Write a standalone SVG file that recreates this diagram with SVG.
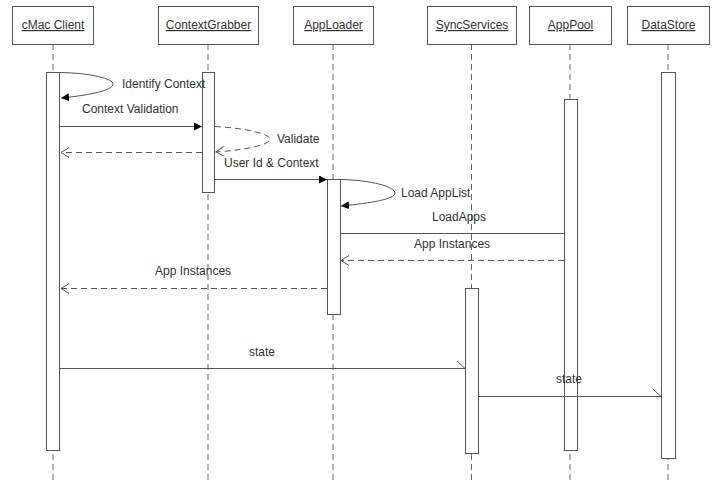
<svg xmlns="http://www.w3.org/2000/svg" width="716" height="482" viewBox="0 0 716 482">
<defs>
<style>
text{font-family:"Liberation Sans",Arial,sans-serif;font-size:12px;fill:#333}
.hd{text-anchor:middle;text-decoration:underline}
.box{fill:#fff;stroke:#555;stroke-width:1}
.life{stroke:#666;stroke-width:1;stroke-dasharray:6 4;fill:none}
.bar{fill:#fff;stroke:#555;stroke-width:1}
.msg{stroke:#555;stroke-width:1;fill:none}
.ret{stroke:#555;stroke-width:1;fill:none;stroke-dasharray:6 4}
</style>
<marker id="fill" markerWidth="10" markerHeight="10" refX="8" refY="4" orient="auto" markerUnits="userSpaceOnUse">
<path d="M0,0 L8,4 L0,8 Z" fill="#000"/>
</marker>
<marker id="open" markerWidth="12" markerHeight="12" refX="8" refY="5" orient="auto" markerUnits="userSpaceOnUse">
<path d="M0,0 L8,5 L0,10" fill="none" stroke="#555" stroke-width="1"/>
</marker>
<marker id="half" markerWidth="12" markerHeight="12" refX="9" refY="8" orient="auto" markerUnits="userSpaceOnUse">
<path d="M1,0.5 L9,8" fill="none" stroke="#555" stroke-width="1"/>
</marker>
</defs>

<g id="lifelines">
<line class="life" x1="53" y1="44" x2="53" y2="480"/>
<line class="life" x1="208" y1="44" x2="208" y2="480"/>
<line class="life" x1="333" y1="44" x2="333" y2="480"/>
<line class="life" x1="471.5" y1="44" x2="471.5" y2="480"/>
<line class="life" x1="570" y1="44" x2="570" y2="480"/>
<line class="life" x1="668" y1="44" x2="668" y2="480"/>
</g>

<g id="cmac-client">
<rect class="box" x="12.5" y="6.5" width="81" height="38"/>
<text class="hd" x="53" y="29">cMac Client</text>
<rect class="bar" x="46.5" y="72.5" width="13" height="378"/>
</g>
<g id="context-grabber">
<rect class="box" x="158.5" y="6.5" width="100" height="38"/>
<text class="hd" x="208.5" y="29">ContextGrabber</text>
<rect class="bar" x="202.5" y="72.5" width="12" height="120"/>
</g>
<g id="app-loader">
<rect class="box" x="293.5" y="6.5" width="80" height="38"/>
<text class="hd" x="333.5" y="29">AppLoader</text>
<rect class="bar" x="327.5" y="179.5" width="13" height="135"/>
</g>
<g id="sync-services">
<rect class="box" x="427.5" y="6.5" width="89" height="38"/>
<text class="hd" x="472" y="29">SyncServices</text>
<rect class="bar" x="465.5" y="288.5" width="13" height="165"/>
</g>
<g id="app-pool">
<rect class="box" x="529.5" y="6.5" width="82" height="38"/>
<text class="hd" x="570.5" y="29">AppPool</text>
<rect class="bar" x="564.5" y="99.5" width="13" height="351"/>
</g>
<g id="data-store">
<rect class="box" x="627.5" y="6.5" width="82" height="38"/>
<text class="hd" x="668.5" y="29">DataStore</text>
<rect class="bar" x="661.5" y="72.5" width="14" height="386"/>
</g>

<g id="connectors">
<path class="msg" d="M60,72.5 C92,73 113,79 113,84 C113,90 92,95 61,98" marker-end="url(#fill)"/>
<line class="msg" x1="60" y1="126.5" x2="202" y2="126.5" marker-end="url(#fill)"/>
<path class="ret" d="M215,126.5 C245,128 270,134 270,139 C270,145 245,150 216,152" marker-end="url(#open)"/>
<line class="ret" x1="202" y1="152.5" x2="61" y2="152.5" marker-end="url(#open)"/>
<line class="msg" x1="215" y1="179.5" x2="327" y2="179.5" marker-end="url(#fill)"/>
<path class="msg" d="M340,179.5 C372,180 395,187 395,193 C395,199 372,203 341,206" marker-end="url(#fill)"/>
<line class="msg" x1="340" y1="233.5" x2="564" y2="233.5"/>
<line class="ret" x1="564" y1="260.5" x2="341" y2="260.5" marker-end="url(#open)"/>
<line class="ret" x1="327" y1="288.5" x2="61" y2="288.5" marker-end="url(#open)"/>
<line class="msg" x1="60" y1="368.5" x2="465" y2="368.5" marker-end="url(#half)"/>
<line class="msg" x1="478" y1="396.5" x2="661" y2="396.5" marker-end="url(#half)"/>
</g>

<g id="labels">
<text x="122" y="88">Identify Context</text>
<text x="82" y="113">Context Validation</text>
<text x="277" y="143">Validate</text>
<text x="224" y="167">User Id &amp; Context</text>
<text x="401" y="197">Load AppList</text>
<text x="432" y="221">LoadApps</text>
<text x="414" y="248">App Instances</text>
<text x="155" y="275">App Instances</text>
<text x="249" y="356">state</text>
<text x="556" y="383">state</text>
</g>
</svg>
